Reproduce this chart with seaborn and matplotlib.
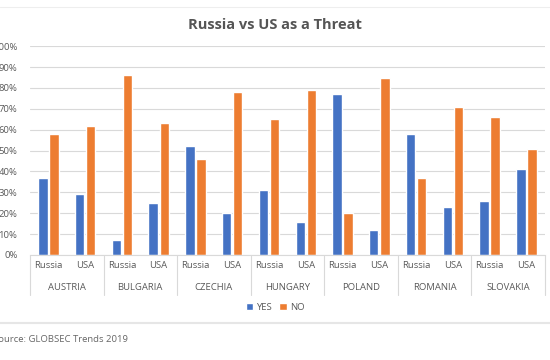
import pandas as pd
import seaborn as sns
import matplotlib.pyplot as plt
import matplotlib.transforms as mtransforms

# data (share of respondents, %)
countries = ['AUSTRIA', 'BULGARIA', 'CZECHIA', 'HUNGARY', 'POLAND', 'ROMANIA', 'SLOVAKIA']
targets = ['Russia', 'USA']
yes_russia = [37, 7, 52, 31, 77, 58, 26]
no_russia = [58, 86, 46, 65, 20, 37, 66]
yes_usa = [29, 25, 20, 16, 12, 23, 41]
no_usa = [62, 63, 78, 79, 85, 71, 51]

rows = []
for i, c in enumerate(countries):
    for t, yes, no in [('Russia', yes_russia, no_russia), ('USA', yes_usa, no_usa)]:
        rows.append({'slot': f'{c}-{t}', 'target': t, 'answer': 'YES', 'value': yes[i] / 100})
        rows.append({'slot': f'{c}-{t}', 'target': t, 'answer': 'NO', 'value': no[i] / 100})
df = pd.DataFrame(rows)

sns.set_style('white')
plt.rcParams['font.family'] = ['Open Sans', 'DejaVu Sans']

fig = plt.figure(figsize=(5.5, 3.6), dpi=100)
ax = fig.add_axes([0.0545, 0.2917, 0.936, 0.580])

sns.barplot(data=df, x='slot', y='value', hue='answer', hue_order=['YES', 'NO'],
            palette={'YES': '#4472C4', 'NO': '#ED7D31'}, width=0.6, gap=0.15,
            saturation=1, ax=ax, legend=True)

grey = '#595959'
ax.set_ylim(0, 1)
ax.set_xlim(-0.5, len(countries) * 2 - 0.5)
ax.set_yticks([i / 10 for i in range(11)])
ax.set_yticklabels([f'{i * 10}%' for i in range(11)], fontsize=6.8, color=grey)
ax.yaxis.grid(True, color='#d9d9d9', linewidth=0.8)
ax.set_axisbelow(True)
for s in ['top', 'right', 'left']:
    ax.spines[s].set_visible(False)
ax.spines['bottom'].set_color('#d9d9d9')
ax.tick_params(axis='x', length=0, pad=4)
ax.tick_params(axis='y', length=0, pad=9)
ax.set_xticks(range(len(countries) * 2))
ax.set_xticklabels(targets * len(countries), fontsize=6.8, color=grey)
ax.set_xlabel('')
ax.set_ylabel('')

# country names and group separators under the axis
trans = mtransforms.blended_transform_factory(ax.transData, ax.transAxes)
for i, c in enumerate(countries):
    ax.text(2 * i + 0.5, -0.155, c, transform=trans, ha='center', va='center',
            fontsize=6.8, color=grey)
for i in range(len(countries) + 1):
    ax.plot([2 * i - 0.5, 2 * i - 0.5], [0, -0.19], transform=trans,
            color='#d9d9d9', linewidth=0.8, clip_on=False)

leg = ax.legend(loc='center', bbox_to_anchor=(0.5, 0.147), bbox_transform=fig.transFigure,
                ncol=2, frameon=False, fontsize=6.8, handlelength=0.8, handleheight=0.8,
                handletextpad=0.3, columnspacing=0.8)
for t in leg.get_texts():
    t.set_color(grey)

fig.text(0.5, 0.93, 'Russia vs US as a Threat', ha='center', va='center',
         fontsize=10.5, fontweight='bold', color='#555555')
fig.text(-0.012, 0.058, 'Source: GLOBSEC Trends 2019', ha='left', va='center',
         fontsize=6.8, color='#666666')
fig.add_artist(plt.Line2D([0, 1], [0.103, 0.103], color='#e6e6e6', linewidth=1.5))
fig.add_artist(plt.Line2D([0, 1], [0.98, 0.98], color='#eeeeee', linewidth=0.8))

fig.savefig('out.png', dpi=100)
